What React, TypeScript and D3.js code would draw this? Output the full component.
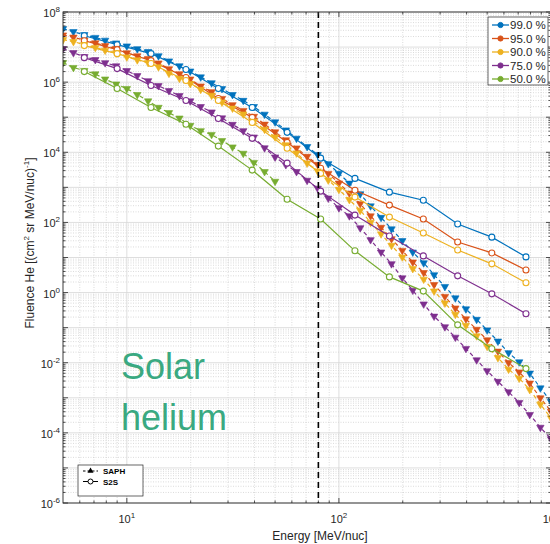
import * as d3 from "d3";
import { useEffect, useRef } from "react";

// percentile labels of the fluence spectra
const percentLabels = ["99.0 %", "95.0 %", "90.0 %", "75.0 %", "50.0 %"];
const methodLabels = ["SAPH", "S2S"];

// S2S model (solid lines, circles)
const s2sEnergy = [6.3, 9.0, 13, 19, 27, 39, 57, 82, 119, 173, 250, 363, 526, 762];
const s2s99 = [2.1e7, 1.17e7, 6.5e6, 2.3e6, 6.6e5, 1.9e5, 3.7e4, 6.8e3, 1.8e3, 730, 430, 90, 38, 10.4];
const s2s95 = [1.52e7, 8.4e6, 4.1e6, 1.35e6, 3.4e5, 9.9e4, 1.92e4, 3.5e3, 830, 312, 125, 27.7, 13.5, 4.4];
const s2s90 = [1.1e7, 6.5e6, 3.4e6, 1.11e6, 3.0e5, 7.1e4, 1.3e4, 2.5e3, 527, 142, 50, 16.4, 6.6, 1.9];
const s2s75 = [5.0e6, 2.43e6, 8.0e5, 3.0e5, 9.2e4, 2.5e4, 4.9e3, 780, 162, 41, 11.1, 3.0, 0.92, 0.25];
const s2s50 = [2.0e6, 6.6e5, 1.9e5, 6.3e4, 1.5e4, 3.1e3, 460, 125, 15.5, 2.8, 1.1, 0.12, 0.025, 0.0068];

// SAPH model (dashed lines, triangles)
const saphEnergy = [
    5, 5.6, 6.3, 7.1, 7.9, 8.9, 10, 11.2, 12.6, 14.1, 15.8, 17.7, 19.9, 22.3, 25.1, 28.1,
    31.5, 35.4, 39.7, 44.6, 50, 56.2, 63.1, 70.8, 79.4, 89.1, 100, 112, 126, 141, 158, 177,
    199, 223, 251, 281, 316, 354, 397, 446, 500, 562, 631, 708, 794, 891, 1000,
];
const saph99 = [
    3.33e7, 2.74e7, 2.25e7, 1.87e7, 1.56e7, 1.3e7, 1.07e7, 8.9e6, 7.4e6, 5.6e6, 4.0e6, 2.9e6,
    2.06e6, 1.4e6, 9.5e5, 6.5e5, 4.4e5, 3.0e5, 2.0e5, 1.21e5, 7.3e4, 4.3e4, 2.5e4, 1.45e4,
    8.6e3, 4.7e3, 2.5e3, 1.31e3, 650, 294, 138, 65, 30, 14.2, 7.0, 3.2, 1.48, 0.7, 0.34,
    0.171, 0.0855, 0.041, 0.0192, 0.0105, 0.005, 0.0019, 7.8e-4,
];
const saph95 = [
    2.2e7, 1.91e7, 1.57e7, 1.31e7, 1.09e7, 9.1e6, 6.8e6, 5.6e6, 4.7e6, 3.5e6, 2.39e6, 1.72e6,
    1.22e6, 7.7e5, 5.3e5, 3.4e5, 2.26e5, 1.55e5, 1.05e5, 6.3e4, 3.8e4, 2.25e4, 1.32e4, 7.6e3,
    4.5e3, 2.47e3, 1.32e3, 680, 340, 153, 72, 34, 15.8, 7.4, 3.7, 1.68, 0.77, 0.36, 0.177,
    0.089, 0.0445, 0.0212, 0.01, 0.0054, 0.0026, 9.9e-4, 4.1e-4,
];
const saph90 = [
    1.62e7, 1.43e7, 1.17e7, 9.7e6, 8.1e6, 6.8e6, 5.2e6, 4.3e6, 3.6e6, 2.72e6, 1.78e6, 1.28e6,
    9.1e5, 6.2e5, 4.2e5, 2.67e5, 1.8e5, 1.23e5, 7.6e4, 4.5e4, 2.72e4, 1.62e4, 9.5e3, 4.9e3,
    2.92e3, 1.61e3, 865, 444, 221, 100, 46.8, 22.1, 10.3, 4.8, 2.39, 1.1, 0.5, 0.237, 0.115,
    0.058, 0.029, 0.0139, 0.0065, 0.0036, 0.0017, 6.5e-4, 2.65e-4,
];
const saph75 = [
    9.0e6, 6.9e6, 5.3e6, 4.36e6, 3.56e6, 2.9e6, 2.12e6, 1.52e6, 1.09e6, 7.9e5, 5.7e5, 4.1e5,
    2.9e5, 2.0e5, 1.4e5, 9.5e4, 6.2e4, 4.1e4, 2.7e4, 1.33e4, 7.3e3, 4.4e3, 2.8e3, 1.58e3, 940,
    490, 260, 153, 70, 32, 14.2, 6.6, 2.6, 1.16, 0.47, 0.211, 0.105, 0.053, 0.0253, 0.012,
    0.00585, 0.00292, 0.00147, 7.3e-4, 3.3e-4, 1.43e-4, 6.7e-5,
];
const saph50 = [
    3.6e6, 2.6e6, 2.14e6, 1.71e6, 1.22e6, 8.8e5, 6.5e5, 4.4e5, 2.9e5, 1.9e5, 1.34e5, 9.4e4,
    5.8e4, 4.1e4, 3.2e4, 2.15e4, 1.41e4, 9.3e3, 5.1e3, 2.8e3, 1.48e3,
];

const cutoffEnergy = 80;
const xTickExps = [1, 2, 3];
const yTickExps = [-6, -4, -2, 0, 2, 4, 6, 8];

const colors = ["#0072BD", "#D95319", "#EDB120", "#7E2F8E", "#77AC30"];

export default function App() {
    const svgRef = useRef<SVGSVGElement | null>(null);

    useEffect(() => {
        const svg = d3.select(svgRef.current);
        svg.selectAll("*").remove();

        const left = 63, right = 551, top = 12, bottom = 503;
        const font = "'Liberation Sans', Arial, Helvetica, sans-serif";
        const axisColor = "#262626";

        const x = d3.scaleLog().domain([5, 1000]).range([left, right]);
        const y = d3.scaleLog().domain([1e-6, 1e8]).range([bottom, top]);

        svg.append("rect").attr("width", 550).attr("height", 544).attr("fill", "#fff");

        svg.append("defs")
            .append("clipPath")
            .attr("id", "plot-clip")
            .append("rect")
            .attr("x", left)
            .attr("y", top)
            .attr("width", right - left)
            .attr("height", bottom - top);

        // grid values
        const yMinor: number[] = [];
        for (let e = -6; e < 8; e++) for (let k = 2; k <= 9; k++) yMinor.push(k * Math.pow(10, e));
        const yMajor = d3.range(-6, 9).map((e) => Math.pow(10, e));
        const xMinor: number[] = [];
        for (let e = 0; e < 3; e++)
            for (let k = 2; k <= 9; k++) {
                const v = k * Math.pow(10, e);
                if (v > 5 && v < 1000) xMinor.push(v);
            }
        const xMajor = [10, 100];

        // Grid
        const grid = svg.append("g");
        grid.append("g")
            .selectAll("line")
            .data(yMinor)
            .join("line")
            .attr("x1", left)
            .attr("x2", right)
            .attr("y1", (d) => y(d))
            .attr("y2", (d) => y(d))
            .attr("stroke", "#c2c2c2")
            .attr("stroke-width", 0.6)
            .attr("stroke-dasharray", "1,1.5");
        grid.append("g")
            .selectAll("line")
            .data(xMinor)
            .join("line")
            .attr("x1", (d) => x(d))
            .attr("x2", (d) => x(d))
            .attr("y1", top)
            .attr("y2", bottom)
            .attr("stroke", "#c2c2c2")
            .attr("stroke-width", 0.6)
            .attr("stroke-dasharray", "1,1.5");
        grid.append("g")
            .selectAll("line")
            .data(yMajor)
            .join("line")
            .attr("x1", left)
            .attr("x2", right)
            .attr("y1", (d) => y(d))
            .attr("y2", (d) => y(d))
            .attr("stroke", "#d6d6d6")
            .attr("stroke-width", 0.8);
        grid.append("g")
            .selectAll("line")
            .data(xMajor)
            .join("line")
            .attr("x1", (d) => x(d))
            .attr("x2", (d) => x(d))
            .attr("y1", top)
            .attr("y2", bottom)
            .attr("stroke", "#d6d6d6")
            .attr("stroke-width", 0.8);

        // Series
        const s2sSeries = [s2s99, s2s95, s2s90, s2s75, s2s50];
        const saphSeries = [saph99, saph95, saph90, saph75, saph50];
        const line = d3
            .line<[number, number]>()
            .x((d) => x(d[0]))
            .y((d) => y(d[1]));
        const tri = d3.symbol().type(d3.symbolTriangle).size(24)();

        const plot = svg.append("g").attr("clip-path", "url(#plot-clip)");
        colors.forEach((color, i) => {
            const saphPts = saphSeries[i].map((v, j) => [saphEnergy[j], v] as [number, number]);
            plot.append("path")
                .attr("d", line(saphPts))
                .attr("fill", "none")
                .attr("stroke", color)
                .attr("stroke-width", 1.2)
                .attr("stroke-dasharray", "4,3");
            plot.append("g")
                .selectAll("path")
                .data(saphPts)
                .join("path")
                .attr("d", tri)
                .attr("transform", (d) => `translate(${x(d[0])},${y(d[1])}) rotate(180)`)
                .attr("fill", color)
                .attr("stroke", color)
                .attr("stroke-width", 0.6);

            const s2sPts = s2sSeries[i].map((v, j) => [s2sEnergy[j], v] as [number, number]);
            plot.append("path")
                .attr("d", line(s2sPts))
                .attr("fill", "none")
                .attr("stroke", color)
                .attr("stroke-width", 1.2);
            plot.append("g")
                .selectAll("circle")
                .data(s2sPts)
                .join("circle")
                .attr("cx", (d) => x(d[0]))
                .attr("cy", (d) => y(d[1]))
                .attr("r", 3)
                .attr("fill", "#fff")
                .attr("stroke", color)
                .attr("stroke-width", 1.1);
        });

        // cut-off energy
        plot.append("line")
            .attr("x1", x(cutoffEnergy))
            .attr("x2", x(cutoffEnergy))
            .attr("y1", top)
            .attr("y2", bottom)
            .attr("stroke", "#000")
            .attr("stroke-width", 1.6)
            .attr("stroke-dasharray", "6,4");

        // Axis box + ticks (inside)
        svg.append("rect")
            .attr("x", left)
            .attr("y", top)
            .attr("width", right - left)
            .attr("height", bottom - top)
            .attr("fill", "none")
            .attr("stroke", axisColor)
            .attr("stroke-width", 0.9);

        const ticks = svg.append("g").attr("stroke", axisColor).attr("stroke-width", 0.8);
        const yTicks = [...yMajor.map((v) => ({ v, len: 5 })), ...yMinor.map((v) => ({ v, len: 2.5 }))];
        yTicks.forEach((t) => {
            ticks.append("line").attr("x1", left).attr("x2", left + t.len).attr("y1", y(t.v)).attr("y2", y(t.v));
            ticks.append("line").attr("x1", right).attr("x2", right - t.len).attr("y1", y(t.v)).attr("y2", y(t.v));
        });
        const xTicks = [...xMajor.map((v) => ({ v, len: 5 })), ...xMinor.map((v) => ({ v, len: 2.5 }))];
        xTicks.forEach((t) => {
            ticks.append("line").attr("x1", x(t.v)).attr("x2", x(t.v)).attr("y1", bottom).attr("y2", bottom - t.len);
            ticks.append("line").attr("x1", x(t.v)).attr("x2", x(t.v)).attr("y1", top).attr("y2", top + t.len);
        });

        // Tick labels
        yTickExps.forEach((e) => {
            const t = svg.append("text")
                .attr("x", left - 3)
                .attr("y", y(Math.pow(10, e)) + 5)
                .attr("text-anchor", "end")
                .attr("font-family", font)
                .attr("font-size", 11)
                .attr("fill", axisColor);
            t.append("tspan").text("10");
            t.append("tspan").attr("dy", -5).attr("font-size", 8).text(String(e));
        });
        xTickExps.forEach((e) => {
            const t = svg.append("text")
                .attr("x", x(Math.pow(10, e)))
                .attr("y", 523)
                .attr("text-anchor", "middle")
                .attr("font-family", font)
                .attr("font-size", 11)
                .attr("fill", axisColor);
            t.append("tspan").text("10");
            t.append("tspan").attr("dy", -5).attr("font-size", 8).text(String(e));
        });

        // Axis labels
        svg.append("text")
            .attr("x", 320)
            .attr("y", 540)
            .attr("text-anchor", "middle")
            .attr("font-family", font)
            .attr("font-size", 12)
            .attr("fill", axisColor)
            .text("Energy [MeV/nuc]");

        const yl = svg.append("text")
            .attr("transform", "translate(34,243) rotate(-90)")
            .attr("text-anchor", "middle")
            .attr("font-family", font)
            .attr("font-size", 12)
            .attr("fill", axisColor);
        yl.append("tspan").text("Fluence He [(cm");
        yl.append("tspan").attr("dy", -5).attr("font-size", 8).text("2");
        yl.append("tspan").attr("dy", 5).text(" sr MeV/nuc)");
        yl.append("tspan").attr("dy", -5).attr("font-size", 8).text("-1");
        yl.append("tspan").attr("dy", 5).text("]");

        // Legend percentiles
        const lg = svg.append("g");
        lg.append("rect")
            .attr("x", 488)
            .attr("y", 17)
            .attr("width", 60)
            .attr("height", 68)
            .attr("fill", "#fff")
            .attr("stroke", axisColor)
            .attr("stroke-width", 0.7);
        percentLabels.forEach((label, i) => {
            const ly = 25 + i * 13.5;
            lg.append("line")
                .attr("x1", 492)
                .attr("x2", 509)
                .attr("y1", ly)
                .attr("y2", ly)
                .attr("stroke", colors[i])
                .attr("stroke-width", 1.3);
            lg.append("circle")
                .attr("cx", 500.5)
                .attr("cy", ly)
                .attr("r", 2.6)
                .attr("fill", colors[i])
                .attr("stroke", colors[i]);
            lg.append("text")
                .attr("x", 510)
                .attr("y", ly + 4)
                .attr("font-family", font)
                .attr("font-size", 11.5)
                .attr("fill", axisColor)
                .text(label);
        });

        // Legend methods
        const lm = svg.append("g");
        lm.append("rect")
            .attr("x", 78)
            .attr("y", 465)
            .attr("width", 65)
            .attr("height", 31)
            .attr("fill", "#fff")
            .attr("stroke", axisColor)
            .attr("stroke-width", 0.7);
        methodLabels.forEach((label, i) => {
            const ly = 471 + i * 10.5;
            lm.append("line")
                .attr("x1", 83)
                .attr("x2", 98)
                .attr("y1", ly)
                .attr("y2", ly)
                .attr("stroke", "#000")
                .attr("stroke-width", 1)
                .attr("stroke-dasharray", i === 0 ? "2.5,2" : null);
            if (i === 0) {
                lm.append("path")
                    .attr("d", d3.symbol().type(d3.symbolTriangle).size(16)())
                    .attr("transform", `translate(90.5,${ly})`)
                    .attr("fill", "#000");
            } else {
                lm.append("circle")
                    .attr("cx", 90.5)
                    .attr("cy", ly)
                    .attr("r", 2.5)
                    .attr("fill", "#fff")
                    .attr("stroke", "#000");
            }
            lm.append("text")
                .attr("x", 103)
                .attr("y", ly + 3)
                .attr("font-family", font)
                .attr("font-size", 8)
                .attr("font-weight", "bold")
                .attr("fill", "#000")
                .text(label);
        });

        // Annotation
        const note = svg.append("text")
            .attr("font-family", font)
            .attr("font-size", 36)
            .attr("fill", "#3aa981");
        note.append("tspan").attr("x", 121).attr("y", 379).text("Solar");
        note.append("tspan").attr("x", 121).attr("y", 430).text("helium");
    }, []);

    return (
        <svg
            ref={svgRef}
            width={550}
            height={544}
            style={{ position: "absolute", left: 0, top: 0 }}
        ></svg>
    );
}
